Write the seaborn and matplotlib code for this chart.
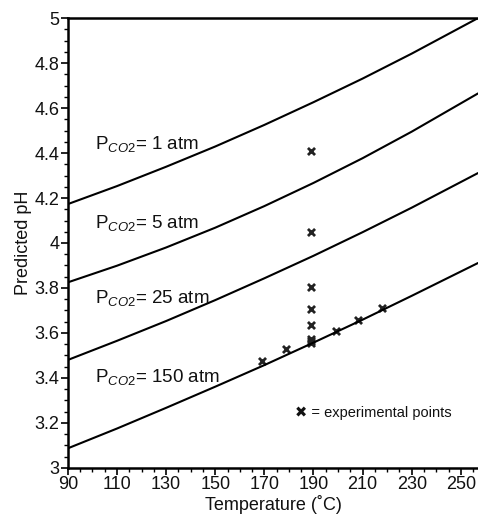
import matplotlib
matplotlib.use("Agg")
import matplotlib.pyplot as plt
import seaborn as sns
from matplotlib.ticker import MultipleLocator

sns.set_theme(style="white")
plt.rcParams['font.family'] = ['Liberation Sans', 'DejaVu Sans']
plt.rcParams['mathtext.fontset'] = 'custom'
plt.rcParams['mathtext.rm'] = 'Liberation Sans'
plt.rcParams['mathtext.it'] = 'Liberation Sans:italic'

# Data
temps = [90, 110, 130, 150, 170, 190, 210, 230, 257]
ph_1atm = [4.173, 4.253, 4.339, 4.429, 4.525, 4.626, 4.731, 4.842, 5.0]
ph_5atm = [3.825, 3.899, 3.980, 4.068, 4.164, 4.267, 4.377, 4.495, 4.665]
ph_25atm = [3.480, 3.565, 3.653, 3.746, 3.843, 3.943, 4.048, 4.157, 4.311]
ph_150atm = [3.087, 3.175, 3.267, 3.361, 3.457, 3.557, 3.659, 3.765, 3.911]
curve_labels = ["1", "5", "25", "150"]
label_y = [4.44, 4.09, 3.756, 3.404]

exp_temp = [189, 189, 189, 189, 189, 189, 189, 189, 169, 179, 199, 208, 218]
exp_ph = [4.41, 4.05, 3.805, 3.705, 3.635, 3.575, 3.565, 3.555,
          3.477, 3.527, 3.61, 3.658, 3.712]

curves = [ph_1atm, ph_5atm, ph_25atm, ph_150atm]

fig = plt.figure(figsize=(4.78, 5.17), dpi=100)
ax = fig.add_axes([0.142, 0.095, 0.858, 0.870])

for c in curves:
    sns.lineplot(x=temps, y=c, ax=ax, color='black', linewidth=1.5)

sns.scatterplot(x=exp_temp, y=exp_ph, ax=ax, marker='x', s=26,
                color='#222222', linewidth=2.0)

for lab, yy in zip(curve_labels, label_y):
    ax.text(101, yy, r'P$_{\mathit{CO2}}$= ' + lab + ' atm', fontsize=13.5,
            va='center', ha='left', color='#111111')

ax.text(182.5, 3.245, '✖ = experimental points', fontsize=10.5,
        va='center', ha='left', color='#111111',
        family=['Liberation Sans', 'DejaVu Sans'])

ax.set_xlim(90, 257)
ax.set_ylim(3, 5)
ax.xaxis.set_minor_locator(MultipleLocator(5))
ax.yaxis.set_minor_locator(MultipleLocator(0.05))
ax.set_xticks(range(90, 251, 20))
ax.set_xticklabels([str(t) for t in range(90, 251, 20)])
ax.set_yticks([3, 3.2, 3.4, 3.6, 3.8, 4, 4.2, 4.4, 4.6, 4.8, 5])
ax.set_yticklabels(['3', '3.2', '3.4', '3.6', '3.8', '4', '4.2', '4.4', '4.6', '4.8', '5'])

ax.tick_params(axis='both', which='major', direction='out', length=5, width=1.2,
               labelsize=13, color='black', labelcolor='#111111', pad=1,
               bottom=True, left=True)
ax.tick_params(axis='both', which='minor', direction='out', length=3, width=1.0,
               color='black', bottom=True, left=True)

for side in ['left', 'bottom', 'top']:
    ax.spines[side].set_visible(True)
    ax.spines[side].set_color('black')
    ax.spines[side].set_linewidth(1.8)
ax.spines['right'].set_visible(False)

ax.set_xlabel('Temperature (˚C)', fontsize=13, labelpad=1, color='#111111')
ax.set_ylabel('Predicted pH', fontsize=13, labelpad=2, color='#111111')

fig.savefig('out.png', dpi=100)
